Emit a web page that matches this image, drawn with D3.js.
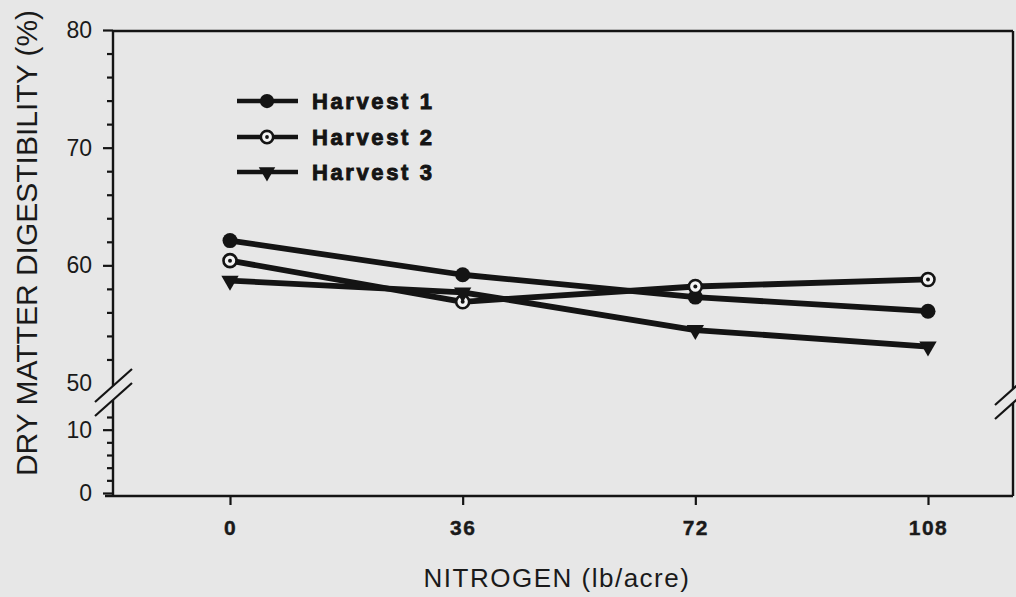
<!DOCTYPE html>
<html>
<head>
<meta charset="utf-8">
<script src="https://cdn.jsdelivr.net/npm/d3@7"></script>
<style>
  html, body { margin: 0; padding: 0; background: #e7e7e7; }
  svg { display: block; font-family: "Liberation Sans", Arial, sans-serif; }
</style>
</head>
<body>
<div id="chart"></div>
<script>
const width = 1016, height = 597;

// data
const nitrogen = [0, 36, 72, 108];
const harvest1 = [62.1, 59.2, 57.3, 56.1];
const harvest2 = [60.4, 56.9, 58.2, 58.8];
const harvest3 = [58.7, 57.7, 54.5, 53.1];
const seriesNames = ["Harvest 1", "Harvest 2", "Harvest 3"];
const yMajorTicks = [0, 10, 50, 60, 70, 80];
const yMinorTicks = [2, 4, 6, 8, 12, 52, 54, 56, 58, 62, 64, 66, 68, 72, 74, 76, 78];

const ink = "#141414";
const frame = { left: 113, right: 1013, top: 31, bottom: 496 };

let svg = d3.select("#chart")
  .append("svg")
  .attr("width", width)
  .attr("height", height);

let x = d3.scaleLinear().domain([0, 108]).range([230, 928]);

// broken axis: 0-12 on the lower part, 50-80 on the upper part
let y = d3.scaleLinear()
  .domain([0, 12, 50, 80])
  .range([frame.bottom - 3, 417, 383, frame.top - 1]);

let series = [harvest1, harvest2, harvest3].map((vals, i) => ({
  name: seriesNames[i],
  points: nitrogen.map((n, j) => ({ n: n, v: vals[j] }))
}));

// frame: top and bottom lines, left/right with break gaps
let breakTop = 386, breakBottom = 400;
let frameLines = [
  [frame.left, frame.top, frame.right, frame.top],
  [frame.left - 8, frame.bottom, frame.right, frame.bottom],
  [frame.left, frame.top, frame.left, breakTop],
  [frame.left, breakBottom, frame.left, frame.bottom],
  [frame.right, frame.top, frame.right, breakTop + 3],
  [frame.right, breakBottom + 3, frame.right, frame.bottom]
];
svg.append("g").selectAll("line")
  .data(frameLines)
  .enter().append("line")
  .attr("x1", d => d[0]).attr("y1", d => d[1])
  .attr("x2", d => d[2]).attr("y2", d => d[3])
  .attr("stroke", ink)
  .attr("stroke-width", 2.4);

// break marks
function breakMarks(cx, y1, y2) {
  [y1, y2].forEach(function(cy) {
    svg.append("line")
      .attr("x1", cx - 18).attr("y1", cy + 16)
      .attr("x2", cx + 19).attr("y2", cy - 17)
      .attr("stroke", ink)
      .attr("stroke-width", 2.2);
  });
}
breakMarks(frame.left, breakTop, breakBottom);
breakMarks(frame.right, breakTop + 3, breakBottom + 3);

// y axis ticks
let yMajor = svg.append("g")
  .attr("transform", "translate(" + frame.left + ",0)")
  .call(d3.axisLeft(y).tickValues(yMajorTicks).tickSize(10).tickPadding(11).tickFormat(d3.format("d")));
yMajor.select(".domain").remove();
yMajor.selectAll(".tick line").attr("stroke", ink).attr("stroke-width", 2.2);
yMajor.selectAll(".tick text")
  .attr("fill", "#1a1a1a")
  .attr("font-size", 23)
  .attr("font-family", "Liberation Sans, Arial, sans-serif");
yMajor.selectAll(".tick").filter(d => d === 50).select("line").remove();

let yMinor = svg.append("g")
  .attr("transform", "translate(" + frame.left + ",0)")
  .call(d3.axisLeft(y).tickValues(yMinorTicks).tickSize(6).tickFormat(""));
yMinor.select(".domain").remove();
yMinor.selectAll(".tick line").attr("stroke", ink).attr("stroke-width", 2.2);

// x axis
let xAxis = svg.append("g")
  .attr("transform", "translate(0," + frame.bottom + ")")
  .call(d3.axisBottom(x).tickValues(nitrogen).tickSize(9).tickPadding(15).tickFormat(d3.format("d")));
xAxis.select(".domain").remove();
xAxis.selectAll(".tick line").attr("stroke", ink).attr("stroke-width", 2.2);
xAxis.selectAll(".tick text")
  .attr("fill", "#1a1a1a")
  .attr("font-size", 21)
  .attr("font-weight", "bold")
  .attr("stroke", "#1a1a1a")
  .attr("stroke-width", 0.4)
  .style("letter-spacing", "1.5px")
  .attr("font-family", "Liberation Sans, Arial, sans-serif");

// axis titles
svg.append("text")
  .attr("x", 557)
  .attr("y", 587)
  .attr("text-anchor", "middle")
  .attr("fill", "#1a1a1a")
  .style("font-size", "26px")
  .style("letter-spacing", "1.5px")
  .text("NITROGEN (lb/acre)");

svg.append("text")
  .attr("transform", "translate(37,243) rotate(-90)")
  .attr("text-anchor", "middle")
  .attr("fill", "#1a1a1a")
  .style("font-size", "30px")
  .text("DRY MATTER DIGESTIBILITY (%)");

// lines
let line = d3.line().x(d => x(d.n)).y(d => y(d.v));

svg.append("g").selectAll("path")
  .data(series)
  .enter().append("path")
  .attr("d", d => line(d.points))
  .attr("fill", "none")
  .attr("stroke", ink)
  .attr("stroke-width", 5.8)
  .attr("stroke-linejoin", "round");

// markers
let triangle = d3.symbol().type(d3.symbolTriangle).size(120);

function drawMarker(g, idx, scale) {
  if (idx === 0) {
    g.append("circle").attr("r", 7.5 * scale).attr("fill", ink);
  } else if (idx === 1) {
    g.append("circle").attr("r", 6.5 * scale).attr("fill", "#f4f4f4")
      .attr("stroke", ink).attr("stroke-width", 2.6);
    g.append("circle").attr("r", 2 * scale).attr("fill", ink);
  } else {
    g.append("path").attr("d", triangle.size(130 * scale * scale)())
      .attr("transform", "rotate(180)")
      .attr("fill", ink);
  }
}

series.forEach(function(s, i) {
  svg.append("g").selectAll("g")
    .data(s.points)
    .enter().append("g")
    .attr("transform", d => "translate(" + x(d.n) + "," + y(d.v) + ")")
    .each(function() { drawMarker(d3.select(this), i, 1); });
});

// legend
let legend = svg.append("g").attr("class", "legend");
let legendRows = [101, 137, 172];

seriesNames.forEach(function(name, i) {
  let row = legend.append("g").attr("transform", "translate(0," + legendRows[i] + ")");
  row.append("line")
    .attr("x1", 237).attr("x2", 298)
    .attr("stroke", ink)
    .attr("stroke-width", 4.5);
  let m = row.append("g").attr("transform", "translate(267,0)");
  drawMarker(m, i, 0.95);
  row.append("text")
    .attr("x", 312)
    .attr("y", 8)
    .attr("fill", "#141414")
    .attr("stroke", "#141414")
    .attr("stroke-width", 0.9)
    .style("font-size", "22px")
    .style("font-weight", "bold")
    .style("letter-spacing", "2.6px")
    .text(name);
});
</script>
</body>
</html>
